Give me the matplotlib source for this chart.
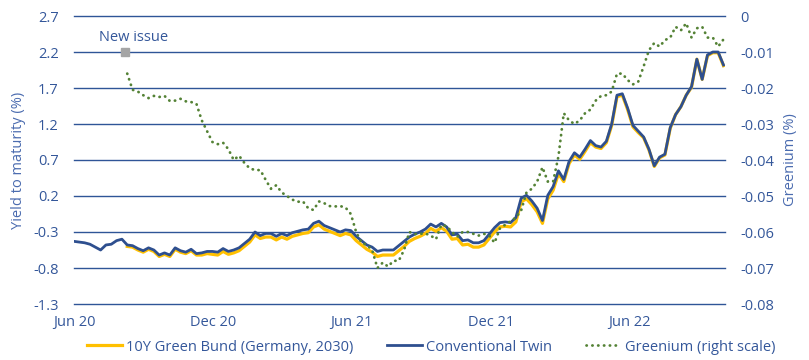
import numpy as np
import pandas as pd
import matplotlib
matplotlib.use("Agg")
import matplotlib.pyplot as plt
import matplotlib.dates as mdates
from matplotlib.lines import Line2D

plt.rcParams['font.family'] = ['Open Sans', 'DejaVu Sans']
plt.rcParams['axes.unicode_minus'] = False

# weekly yields (%), conventional twin from Jun 2020
twin_start = "2020-06-01"
twin = [-0.43, -0.44, -0.45, -0.47, -0.51, -0.55, -0.48, -0.47, -0.42, -0.40,
        -0.48, -0.49, -0.53, -0.56, -0.52, -0.55, -0.62, -0.59, -0.62, -0.52,
        -0.56, -0.58, -0.54, -0.60, -0.59, -0.57, -0.57, -0.58, -0.53, -0.57,
        -0.55, -0.52, -0.46, -0.40, -0.30, -0.35, -0.32, -0.32, -0.36, -0.32,
        -0.35, -0.31, -0.29, -0.27, -0.26, -0.18, -0.15, -0.21, -0.24, -0.27,
        -0.30, -0.27, -0.28, -0.36, -0.42, -0.48, -0.51, -0.57, -0.55, -0.55,
        -0.55, -0.49, -0.43, -0.37, -0.33, -0.30, -0.26, -0.19, -0.23, -0.18,
        -0.23, -0.34, -0.33, -0.42, -0.41, -0.45, -0.45, -0.42, -0.33, -0.24,
        -0.17, -0.16, -0.17, -0.10, 0.17, 0.21, 0.13, 0.03, -0.14, 0.21,
        0.33, 0.55, 0.43, 0.68, 0.80, 0.74, 0.85, 0.97, 0.90, 0.88,
        0.96, 1.20, 1.60, 1.62, 1.42, 1.18, 1.10, 1.02, 0.85, 0.62,
        0.74, 0.78, 1.15, 1.33, 1.44, 1.60, 1.72, 2.10, 1.82, 2.16,
        2.20, 2.20, 2.02]

# green bund, weekly from issue
green_start = "2020-08-10"
green = [-0.50, -0.51, -0.55, -0.58, -0.54, -0.57, -0.64, -0.61, -0.64, -0.54,
         -0.58, -0.60, -0.56, -0.62, -0.62, -0.60, -0.61, -0.62, -0.57, -0.61,
         -0.59, -0.56, -0.50, -0.44, -0.34, -0.39, -0.37, -0.37, -0.41, -0.37,
         -0.40, -0.36, -0.34, -0.32, -0.31, -0.23, -0.20, -0.26, -0.29, -0.32,
         -0.35, -0.32, -0.34, -0.42, -0.48, -0.54, -0.58, -0.64, -0.62, -0.62,
         -0.62, -0.56, -0.50, -0.43, -0.39, -0.36, -0.32, -0.25, -0.29, -0.24,
         -0.29, -0.40, -0.39, -0.48, -0.47, -0.51, -0.51, -0.48, -0.39, -0.30,
         -0.23, -0.22, -0.23, -0.16, 0.12, 0.16, 0.08, -0.02, -0.18, 0.16,
         0.28, 0.51, 0.40, 0.65, 0.77, 0.71, 0.82, 0.94, 0.88, 0.86,
         0.94, 1.18, 1.58, 1.60, 1.40, 1.16, 1.08, 1.01, 0.84, 0.61,
         0.73, 0.77, 1.14, 1.33, 1.44, 1.60, 1.71, 2.10, 1.82, 2.15,
         2.19, 2.19, 2.01]

# greenium (%), right scale
greenium = [-0.016, -0.0205, -0.021, -0.022, -0.0228, -0.0222, -0.0225, -0.0222, -0.0236, -0.0235,
            -0.023, -0.0237, -0.0239, -0.0244, -0.029, -0.032, -0.035, -0.0356, -0.0352, -0.037,
            -0.040, -0.0388, -0.0408, -0.0423, -0.0428, -0.0428, -0.0455, -0.048, -0.047, -0.049,
            -0.050, -0.051, -0.0516, -0.0515, -0.0534, -0.0539, -0.0515, -0.052, -0.0528, -0.0529,
            -0.0528, -0.0532, -0.055, -0.060, -0.063, -0.0636, -0.065, -0.070, -0.0685, -0.0696,
            -0.068, -0.068, -0.065, -0.060, -0.0606, -0.0605, -0.0604, -0.061, -0.062, -0.058,
            -0.0584, -0.060, -0.0613, -0.060, -0.060, -0.0605, -0.061, -0.0605, -0.061, -0.063,
            -0.059, -0.058, -0.057, -0.056, -0.054, -0.049, -0.048, -0.046, -0.042, -0.046,
            -0.046, -0.039, -0.027, -0.029, -0.030, -0.029, -0.027, -0.026, -0.0235, -0.0222,
            -0.022, -0.021, -0.016, -0.016, -0.0178, -0.019, -0.0182, -0.014, -0.0095, -0.0075,
            -0.0085, -0.0067, -0.006, -0.003, -0.004, -0.002, -0.006, -0.0034, -0.003, -0.006,
            -0.006, -0.0085, -0.0065]

new_issue_date = "2020-08-07"
new_issue_level = 2.2

left_ticks = [-1.3, -0.8, -0.3, 0.2, 0.7, 1.2, 1.7, 2.2, 2.7]
right_ticks = [0, -0.01, -0.02, -0.03, -0.04, -0.05, -0.06, -0.07, -0.08]
x_ticks = ["2020-06-01", "2020-12-01", "2021-06-01", "2021-12-01", "2022-06-01"]

twin_dates = pd.date_range(twin_start, periods=len(twin), freq="7D")
green_dates = pd.date_range(green_start, periods=len(green), freq="7D")

blue = '#2E4F8F'
grid_blue = '#2F5597'
text_blue = '#34579A'
yellow = '#FFC000'
green_c = '#548235'
fs = 10.5

fig = plt.figure(figsize=(8.09, 3.6), dpi=100)
ax = fig.add_axes([74/809, 56/360, 651/809, 288/360])
ax2 = ax.twinx()

ax.plot(green_dates, green, color=yellow, lw=2.3, zorder=3)
ax.plot(twin_dates, twin, color=blue, lw=2.0, zorder=4)
ax.plot(pd.to_datetime([new_issue_date]), [new_issue_level], marker='s', ms=6,
        color='#A5A5A5', ls='none', zorder=5)
ax.annotate("New issue", xy=(pd.to_datetime(new_issue_date), new_issue_level),
            xytext=(6.5, 10.5), textcoords="offset points", ha="center", va="center",
            fontsize=fs, color=text_blue)

ax2.plot(green_dates, greenium, color=green_c, lw=2.0, ls=(0, (0.1, 2.0)),
         dash_capstyle='round', zorder=6)

ax.set_xlim(pd.Timestamp("2020-06-01"), pd.Timestamp("2022-10-05"))
ax.set_ylim(-1.3, 2.7)
ax2.set_ylim(-0.08, 0)
ax.set_yticks(left_ticks)
ax.set_yticklabels([f"{v:.1f}" for v in left_ticks])
ax2.set_yticks(right_ticks)
ax2.set_yticklabels(["0" if v == 0 else f"{v:.2f}" for v in right_ticks])
ax.set_xticks(pd.to_datetime(x_ticks))
ax.xaxis.set_major_formatter(mdates.DateFormatter("%b %y"))

ax.grid(axis='y', color=grid_blue, lw=1.0)
ax.set_axisbelow(True)
for gl in ax.get_ygridlines():
    gl.set_clip_on(False)

for a in (ax, ax2):
    for s in a.spines.values():
        s.set_visible(False)
    a.tick_params(length=0, labelsize=fs, labelcolor=text_blue)
ax.tick_params(axis='y', pad=11)
ax.tick_params(axis='x', pad=8)
ax2.tick_params(axis='y', pad=11)

ax.set_ylabel("Yield to maturity (%)", fontsize=fs, color='#4A6BAF', va='center')
ax.yaxis.set_label_coords(-0.086, 0.5)
ax2.set_ylabel("Greenium (%)", fontsize=fs, color='#4A6BAF', rotation=90, va='center')
ax2.yaxis.set_label_coords(1.1, 0.5)

handles = [Line2D([], [], color=yellow, lw=2.3),
           Line2D([], [], color=blue, lw=2.0),
           Line2D([], [], color=green_c, lw=2.0, ls=(0, (0.1, 2.0)), dash_capstyle='round')]
labels = ["10Y Green Bund (Germany, 2030)", "Conventional Twin", "Greenium (right scale)"]
fig.legend(handles, labels, loc='center', bbox_to_anchor=(0.533, 0.036), ncol=3,
           frameon=False, fontsize=fs, labelcolor=text_blue, handlelength=2.4,
           handletextpad=0.3, columnspacing=2.3)

fig.savefig("out.png", dpi=100)
